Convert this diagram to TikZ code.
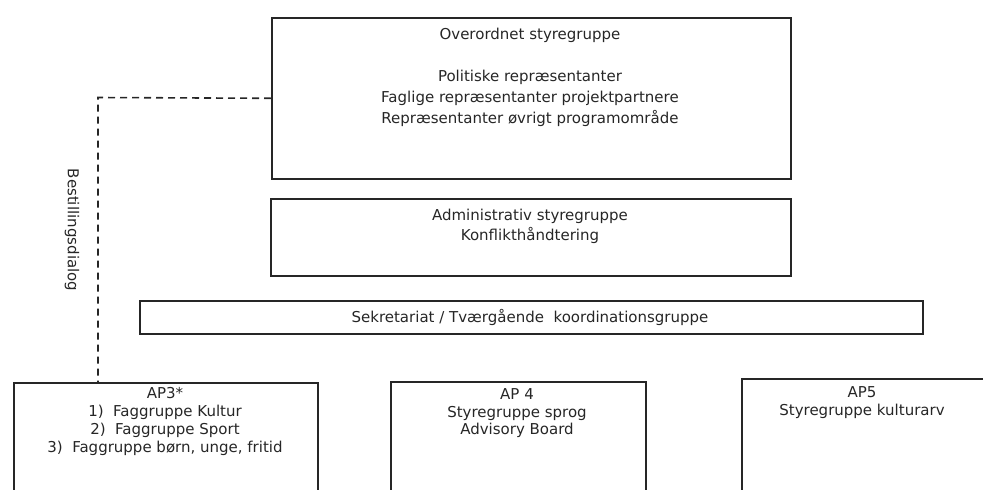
\documentclass[tikz,border=0pt]{standalone}
\usepackage{fontspec}
\setmainfont{DejaVu Sans}
\begin{document}
\begin{tikzpicture}[x=1pt,y=-1pt,
  box/.style={draw=black!85,line width=1.6pt,rectangle,inner sep=0pt,anchor=north west},
  txt/.style={align=center,inner sep=0pt,text=black!85,font=\fontsize{15}{21}\selectfont},
  conn/.style={draw=black!85,line width=1.6pt,dash pattern=on 7pt off 5pt}]
\useasboundingbox (0,0) rectangle (983,490);
\clip (0,0) rectangle (983,490);
% boxes
\node[box,minimum width=519pt,minimum height=161pt] (top) at (271,17) {};
\node[box,minimum width=520pt,minimum height=77pt] (admin) at (270,198) {};
\node[box,minimum width=783pt,minimum height=33pt] (sek) at (139,300) {};
\node[box,minimum width=304pt,minimum height=140pt] (ap3) at (13,382) {};
\node[box,minimum width=255pt,minimum height=140pt] (ap4) at (390,381) {};
\node[box,minimum width=260pt,minimum height=140pt] (ap5) at (741,378) {};
% texts
\node[txt] (toptxt) at (530,77) {Overordnet styregruppe\\[21pt]Politiske repræsentanter\\Faglige repræsentanter projektpartnere\\Repræsentanter øvrigt programområde};
\node[txt,font=\fontsize{15}{20}\selectfont] (admintxt) at (530,226) {Administrativ styregruppe\\Konflikthåndtering};
\node[txt] (sektxt) at (530,317) {Sekretariat / Tværgående~ koordinationsgruppe};
\node[txt,font=\fontsize{15}{17.8}\selectfont] (ap3txt) at (165,421.5) {AP3*\\1)\ \ Faggruppe Kultur\\2)\ \ Faggruppe Sport\\3)\ \ Faggruppe børn, unge, fritid};
\node[txt,font=\fontsize{15}{17.5}\selectfont] (ap4txt) at (517,413.5) {AP 4\\Styregruppe sprog\\Advisory Board};
\node[txt,font=\fontsize{15}{18}\selectfont] (ap5txt) at (862,403) {AP5\\Styregruppe kulturarv};
% dashed connector
\coordinate (corner) at (98,97.5);
\draw[conn] (top.west) -- (corner) -- (corner |- ap3.north);
\node[txt,rotate=-90] (lbl) at (72,230) {Bestillingsdialog};
\end{tikzpicture}
\end{document}
